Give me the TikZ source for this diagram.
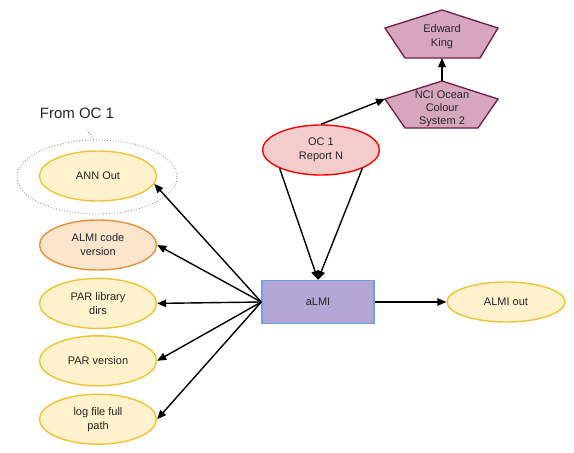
\documentclass[tikz,border=0pt]{standalone}
\usepackage{fontspec}
\setmainfont{Liberation Sans}
\usetikzlibrary{positioning,shapes.geometric,arrows.meta}
\definecolor{yelfill}{HTML}{FFF2CC}
\definecolor{yeldraw}{HTML}{F1C232}
\definecolor{orafill}{HTML}{FCE5CD}
\definecolor{oradraw}{HTML}{E69138}
\definecolor{redfill}{HTML}{F4CCCC}
\definecolor{reddraw}{HTML}{FF0000}
\definecolor{purfill}{HTML}{B4A7D6}
\definecolor{purdraw}{HTML}{6D9EEB}
\definecolor{pinfill}{HTML}{D5A6BD}
\definecolor{pindraw}{HTML}{741B47}
\definecolor{txt}{HTML}{262626}

\begin{document}
\begin{tikzpicture}[x=1pt, y=-1pt,
  every node/.style={font=\fontsize{11}{14}\selectfont, text=txt, align=center},
  main/.style={draw, ellipse, line width=1.4pt, minimum width=117pt, minimum height=50pt, inner sep=0pt},
  yel/.style={main, draw=yeldraw, fill=yelfill},
  ora/.style={main, draw=oradraw, fill=orafill},
  red/.style={main, draw=reddraw, fill=redfill},
  pent/.style={draw=pindraw, fill=pinfill, line width=1.3pt, line join=miter},
  arr/.style={-{Triangle[length=9pt,width=7.5pt]}, line width=1.4pt}]
\useasboundingbox (0,0) rectangle (574,453);

% group from OC 1
\node[draw=gray, dotted, ellipse, line width=0.8pt, minimum width=160pt, minimum height=74pt] (grp) at (97,177) {};
\node[font=\fontsize{15}{18}\selectfont] (from) at (77,113) {From OC 1};
\coordinate (lead) at (87,130);
\draw[gray, dotted, line width=0.8pt] (grp.95) -- (lead);

% left column
\node[yel] (ann) at (98,176) {ANN Out};
\node[ora] (code) at (98,245) {ALMI code\\version};
\node[yel] (lib) [below=7pt of code] {PAR library\\dirs};
\node[yel] (ver) [below=6pt of lib] {PAR version};
\node[yel] (log) [below=7pt of ver] {log file full\\path};

% centre
\node[draw=purdraw, fill=purfill, line width=1.4pt, minimum width=112pt, minimum height=43pt, inner sep=0pt] (almi) at (318,302) {aLMI};
\node[yel, minimum width=118pt, minimum height=40pt] (out) at (506,302) {ALMI out};
\node[red] (oc) at (321,150) {OC 1\\Report N};

% pentagons
\draw[pent] (442,10) -- (498,28) -- (480,58) -- (405,58) -- (385,28) -- cycle;
\draw[pent] (442,81) -- (498,99) -- (478,128) -- (405,128) -- (385,99) -- cycle;
\node (ek) at (442,37) {Edward\\King};
\node[font=\fontsize{11}{13}\selectfont] (nci) at (442,109) {NCI Ocean\\Colour\\System 2};
\coordinate (ekbot) at (442,58);
\coordinate (ncitop) at (442,81);
\coordinate (nciwest) at (385,99);

\draw[arr] (almi.west) -- (ann.-8);
\draw[arr] (almi.west) -- (code.east);
\draw[arr] (almi.west) -- (lib.east);
\draw[arr] (almi.west) -- (ver.east);
\draw[arr] (almi.west) -- (log.east);
\draw[arr] (almi.east) -- (out.west);
\draw[arr] (oc.-156) -- (almi.north);
\draw[arr] (oc.-24) -- (almi.north);
\draw[arr] (oc.north) -- (nciwest);
\draw[arr] (ncitop) -- (ekbot);
\end{tikzpicture}
\end{document}
